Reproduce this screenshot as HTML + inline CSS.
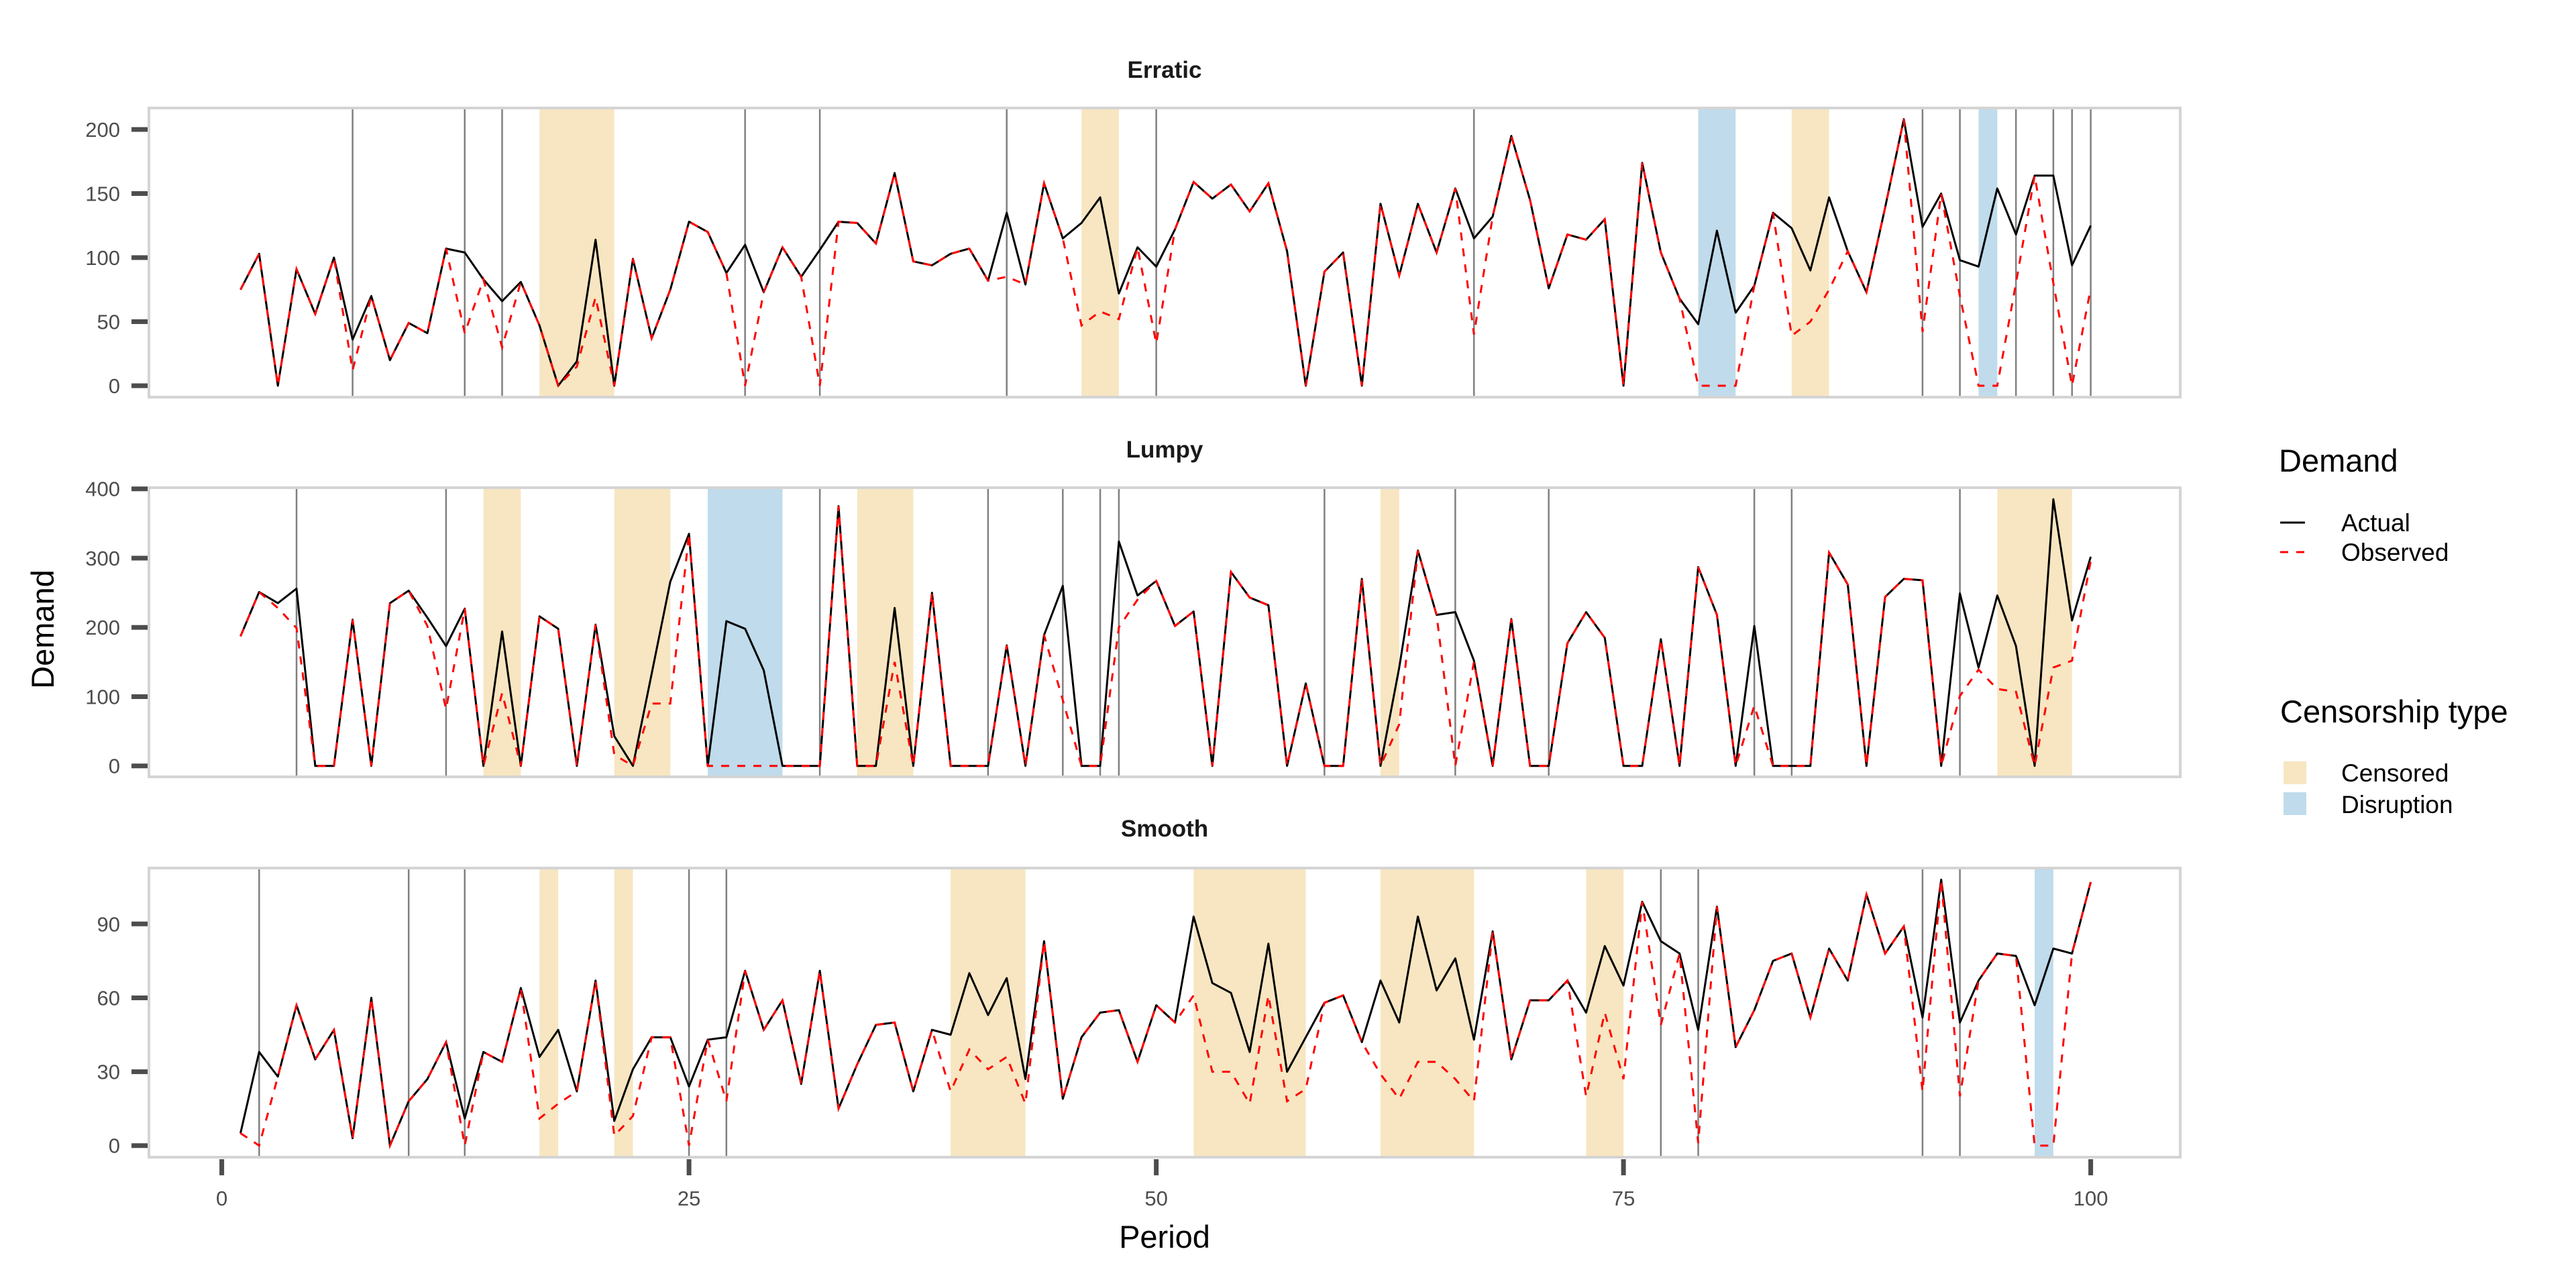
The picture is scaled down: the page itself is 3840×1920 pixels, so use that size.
<!DOCTYPE html>
<html><head><meta charset="utf-8"><title>Demand chart</title>
<style>
html,body{margin:0;padding:0;background:#fff;}
svg{display:block;font-family:"Liberation Sans",Arial,sans-serif;}
</style></head>
<body>
<svg id="chart" xmlns="http://www.w3.org/2000/svg" width="3840" height="1920" viewBox="0 0 3840 1920">
<rect x="0" y="0" width="3840" height="1920" fill="#fff"/>
<g id="panels"></g>
<g id="xaxis"></g>
<text x="1736" y="1860" text-anchor="middle" font-size="47" fill="#000">Period</text>
<text x="0" y="0" transform="translate(80,938) rotate(-90)" text-anchor="middle" font-size="47" fill="#000">Demand</text>
<g>
<text x="3397" y="703" font-size="47" fill="#000">Demand</text>
<line x1="3399" y1="779" x2="3436" y2="779" stroke="#000" stroke-width="3"/>
<text x="3490" y="792" font-size="37" fill="#000">Actual</text>
<line x1="3399" y1="823" x2="3436" y2="823" stroke="#ff0000" stroke-width="3" stroke-dasharray="12,12"/>
<text x="3490" y="836" font-size="37" fill="#000">Observed</text>
<text x="3399" y="1077" font-size="47" fill="#000">Censorship type</text>
<rect x="3404" y="1135" width="34" height="34" fill="#f7e6c1"/>
<text x="3490" y="1165" font-size="37" fill="#000">Censored</text>
<rect x="3404" y="1181" width="34" height="34" fill="#c0dbeb"/>
<text x="3490" y="1212" font-size="37" fill="#000">Disruption</text>
</g>
</svg>
<script>
const erraticActual=[75,103,0,91,56,100,36,70,20,49,41,107,104,83,66,81,47,0,19,114,0,99,37,75,128,120,88,110,73,108,85,106,128,127,111,166,97,94,103,107,82,135,79,158,115,127,147,72,108,93,122,159,146,157,136,158,105,0,89,104,0,142,86,142,104,154,115,132,195,145,76,118,114,130,0,174,104,68,48,121,57,78,135,123,90,147,105,73,139,208,124,150,98,93,154,118,164,164,94,125];
const erraticObserved=[75,103,0,91,56,100,12,70,20,49,41,107,41,83,30,81,47,0,15,69,0,99,37,75,128,120,88,0,73,108,85,0,128,127,111,166,97,94,103,107,82,85,79,158,115,47,58,52,108,33,122,159,146,157,136,158,105,0,89,104,0,142,86,142,104,154,40,132,195,145,76,118,114,130,0,174,104,68,0,0,0,78,135,39,50,75,105,73,139,208,42,150,70,0,0,80,164,80,0,76];
const erraticCensored=[[17,21],[46,48],[84,86]];
const erraticDisruption=[[79,81],[94,95]];
const erraticMarks=[7,13,15,28,32,42,50,67,91,93,96,98,99,100];
const erraticTicks=[0,50,100,150,200];

const lumpyActual=[187,251,235,256,0,0,211,0,235,253,214,173,227,0,194,0,216,198,0,204,43,0,133,266,335,0,209,198,138,0,0,0,375,0,0,228,0,250,0,0,0,174,0,189,260,0,0,324,246,267,202,223,0,280,243,232,0,119,0,0,270,0,142,311,218,222,152,0,212,0,0,177,222,185,0,0,183,0,287,218,0,202,0,0,0,308,262,0,244,270,268,0,249,142,246,173,0,385,210,302];
const lumpyObserved=[187,251,228,199,0,0,211,0,235,253,202,82,227,0,105,0,216,198,0,204,16,0,90,90,335,0,0,0,0,0,0,0,375,0,0,150,0,250,0,0,0,174,0,189,95,0,0,200,240,267,202,223,0,280,243,232,0,119,0,0,270,0,60,311,218,0,150,0,212,0,0,177,222,185,0,0,183,0,287,218,0,87,0,0,0,308,262,0,244,270,268,0,101,139,111,107,0,142,152,296];
const lumpyCensored=[[14,16],[21,24],[34,37],[62,63],[95,99]];
const lumpyDisruption=[[26,30]];
const lumpyMarks=[4,12,32,41,45,47,48,59,66,71,82,84,93];
const lumpyTicks=[0,100,200,300,400];

const smoothActual=[5,38,28,57,35,47,3,60,0,18,27,42,11,38,34,64,36,47,22,67,10,31,44,44,24,43,44,71,47,59,25,71,15,33,49,50,22,47,45,70,53,68,27,83,19,44,54,55,34,57,50,93,66,62,38,82,30,44,58,61,42,67,50,93,63,76,43,87,35,59,59,67,54,81,65,99,83,78,47,97,40,55,75,78,52,80,67,102,78,89,52,108,50,67,78,77,57,80,78,107];
const smoothObserved=[5,0,28,57,35,47,3,60,0,18,27,42,0,38,34,64,11,17,22,67,4,12,44,44,0,43,18,71,47,59,25,71,15,33,49,50,22,47,22,39,31,36,17,83,19,44,54,55,34,57,50,61,30,30,17,61,18,23,58,61,42,29,19,34,34,27,18,87,35,59,59,67,20,54,27,99,49,78,1,97,40,55,75,78,52,80,67,102,78,89,22,108,20,67,78,77,0,0,78,107];
const smoothCensored=[[17,18],[21,22],[39,43],[52,58],[62,67],[73,75]];
const smoothDisruption=[[97,98]];
const smoothMarks=[2,10,13,25,27,77,79,91,93];
const smoothTicks=[0,30,60,90];

const xTicks=[0,25,50,75,100];

const NS='http://www.w3.org/2000/svg';
const PL=222, PR=3250;
function xs(t){return 330.6+27.86*t;}
function mk(tag,attrs,parent){const e=document.createElementNS(NS,tag);for(const k in attrs)e.setAttribute(k,attrs[k]);parent.appendChild(e);return e;}

const panels=[
 {key:'erratic',title:'Erratic',top:161,bot:592,y0:575,k:1.91,actual:erraticActual,obs:erraticObserved,cen:erraticCensored,dis:erraticDisruption,marks:erraticMarks,ticks:erraticTicks,ty:116},
 {key:'lumpy',title:'Lumpy',top:727,bot:1158,y0:1141.7,k:1.0325,actual:lumpyActual,obs:lumpyObserved,cen:lumpyCensored,dis:lumpyDisruption,marks:lumpyMarks,ticks:lumpyTicks,ty:682},
 {key:'smooth',title:'Smooth',top:1294,bot:1725,y0:1707.7,k:3.671,actual:smoothActual,obs:smoothObserved,cen:smoothCensored,dis:smoothDisruption,marks:smoothMarks,ticks:smoothTicks,ty:1247}
];
const root=document.getElementById('panels');
panels.forEach(p=>{
 const g=mk('g',{},root);
 
 
 const ys=v=>p.y0-v*p.k;
 const t=mk('text',{x:1736,y:p.ty,'text-anchor':'middle','font-size':'35','font-weight':'bold',fill:'#1a1a1a'},g);
 t.textContent=p.title;
 
 
 p.cen.forEach((c,i)=>{
  const r=mk('rect',{x:xs(c[0]),y:p.top,width:xs(c[1])-xs(c[0]),height:p.bot-p.top,fill:'#f7e6c1'},g);
  
  
 });
 p.dis.forEach((c,i)=>{
  const r=mk('rect',{x:xs(c[0]),y:p.top,width:xs(c[1])-xs(c[0]),height:p.bot-p.top,fill:'#c0dbeb'},g);
  
  
 });
 p.marks.forEach((m,i)=>{
  const l=mk('line',{x1:xs(m),x2:xs(m),y1:p.top,y2:p.bot,stroke:'#808080','stroke-width':'2.5'},g);
  
  
 });
 p.ticks.forEach(v=>{
  const tk=mk('line',{x1:196,x2:222,y1:ys(v),y2:ys(v),stroke:'#4d4d4d','stroke-width':'7'},g);
  
  
  const tl=mk('text',{x:179,y:ys(v)+11,'text-anchor':'end','font-size':'31',fill:'#4d4d4d'},g);
  tl.textContent=v;
  
  
 });
 const ptsA=p.actual.map((v,i)=>xs(i+1).toFixed(1)+','+ys(v).toFixed(1)).join(' ');
 const ptsO=p.obs.map((v,i)=>xs(i+1).toFixed(1)+','+ys(v).toFixed(1)).join(' ');
 const la=mk('polyline',{points:ptsA,fill:'none',stroke:'#000','stroke-width':'3','stroke-linejoin':'round'},g);
 
 
 const lo=mk('polyline',{points:ptsO,fill:'none',stroke:'#ff0000','stroke-width':'3','stroke-dasharray':'12,12'},g);
 
 
 const b=mk('rect',{x:PL,y:p.top,width:PR-PL,height:p.bot-p.top,fill:'none',stroke:'#d4d4d4','stroke-width':'4'},g);
 
 
});
const xa=document.getElementById('xaxis');
xTicks.forEach(v=>{
 const tk=mk('line',{x1:xs(v),x2:xs(v),y1:1728,y2:1752,stroke:'#4d4d4d','stroke-width':'7'},xa);
 
 
 const tl=mk('text',{x:xs(v),y:1797,'text-anchor':'middle','font-size':'31',fill:'#4d4d4d'},xa);
 tl.textContent=v;
 
 
});
</script>
</body></html>
